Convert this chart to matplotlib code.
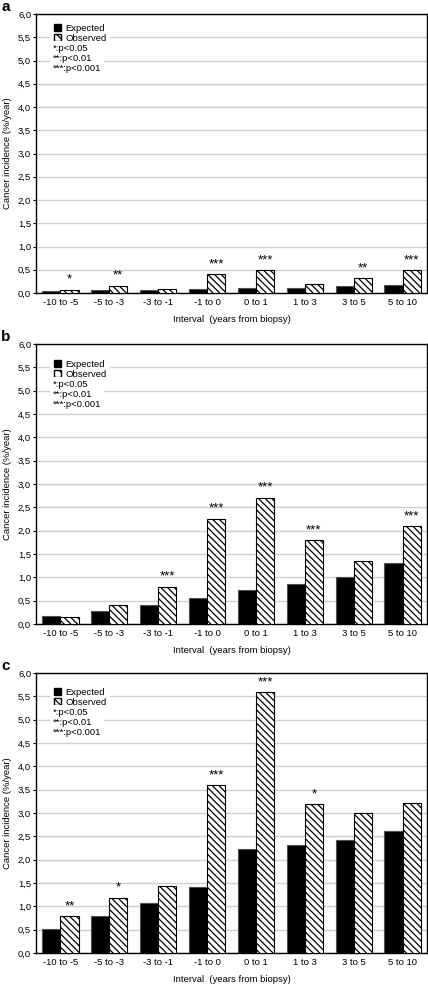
"""Expected vs observed cancer incidence by interval from biopsy, three panels."""
import matplotlib
matplotlib.use("Agg")
import matplotlib.pyplot as plt
import numpy as np
from matplotlib.patches import Patch

plt.rcParams["font.family"] = ["Liberation Sans", "DejaVu Sans"]
plt.rcParams["hatch.linewidth"] = 0.9

intervals = ["-10 to -5", "-5 to -3", "-3 to -1", "-1 to 0", "0 to 1", "1 to 3", "3 to 5", "5 to 10"]
panel_names = ["a", "b", "c"]

expected_a = [0.04, 0.06, 0.07, 0.09, 0.10, 0.11, 0.14, 0.18]
observed_a = [0.07, 0.16, 0.08, 0.40, 0.49, 0.19, 0.32, 0.49]
stars_a = ["*", "**", "", "***", "***", "", "**", "***"]

expected_b = [0.17, 0.27, 0.40, 0.55, 0.72, 0.85, 1.01, 1.30]
observed_b = [0.15, 0.40, 0.80, 2.26, 2.71, 1.79, 1.36, 2.09]
stars_b = ["", "", "***", "***", "***", "***", "", "***"]

expected_c = [0.52, 0.80, 1.08, 1.41, 2.23, 2.31, 2.42, 2.62]
observed_c = [0.79, 1.18, 1.43, 3.59, 5.59, 3.19, 2.99, 3.21]
stars_c = ["**", "*", "", "***", "***", "*", "", ""]

yticks = np.arange(0, 6.01, 0.5)
sig_lines = ["*:p<0.05", "**:p<0.01", "***:p<0.001"]

HATCH = "\\\\\\\\\\"
FS = 6.8
W, H = 428, 985


def draw_panel(fig, name, top_px, bot_px, expected, observed, stars, leg_off):
    ax = fig.add_axes([36 / W, 1 - bot_px / H, 391 / W, (bot_px - top_px) / H])
    x = np.arange(len(intervals))
    bw = 0.37
    ax.bar(x - bw / 2, expected, width=bw, color="black", edgecolor="#505050", lw=0.8, zorder=3)
    ax.bar(x + bw / 2, observed, width=bw, color="white", edgecolor="black", lw=0.8,
           hatch=HATCH, zorder=3)
    for xi, v, s in zip(x, observed, stars):
        if s:
            ax.annotate(s, (xi + bw / 2, v), xytext=(0, 3), textcoords="offset points",
                        ha="center", va="bottom", fontsize=9.5, zorder=4)

    ax.set_xlim(-0.5, len(intervals) - 0.5); ax.set_ylim(0, 6)
    ax.set_yticks(yticks)
    ax.set_yticklabels([f"{v:.1f}".replace(".", ",") for v in yticks], fontsize=FS)
    ax.set_xticks(x); ax.set_xticklabels(intervals, fontsize=FS)
    ax.tick_params(axis="x", length=0, pad=3.5)
    ax.tick_params(axis="y", length=2, width=0.8, pad=1.5, right=True)
    ax.grid(axis="y", color="#cfcfcf", lw=1.0, zorder=0)
    for sp in ax.spines.values():
        sp.set_linewidth(1.0)

    ax.set_ylabel("Cancer incidence (%/year)", fontsize=FS, va="center")
    ax.yaxis.set_label_coords((8 - 36) / 391, 0.5)
    ax.set_xlabel("Interval  (years from biopsy)", fontsize=FS, va="top")
    ax.xaxis.set_label_coords(0.5, -0.08)

    ph = bot_px - top_px
    handles = [Patch(facecolor="black", edgecolor="black"),
               Patch(facecolor="white", edgecolor="black", hatch="\\\\\\")]
    leg = ax.legend(handles, ["Expected", "Observed"], loc="upper left",
                    bbox_to_anchor=(0.036, 1 - (leg_off - 7) / ph), borderaxespad=0,
                    fontsize=FS, frameon=True, fancybox=False, framealpha=1,
                    edgecolor="none", handlelength=0.8, handleheight=0.8,
                    handletextpad=0.4, labelspacing=0.1, borderpad=0.4)
    leg.set_zorder(5)
    ax.text(0.043, 1 - (leg_off + 17) / ph, "\n".join(sig_lines), transform=ax.transAxes,
            ha="left", va="top", fontsize=FS, linespacing=1.15, zorder=6,
            bbox=dict(facecolor="white", edgecolor="none", pad=2))

    fig.text(1 / W, 1 - (top_px - 3) / H, name, fontsize=11, fontweight="bold",
             ha="left", va="baseline")
    return ax


def main():
    fig = plt.figure(figsize=(W / 100, H / 100), dpi=100)
    panels = [
        (14, 293, expected_a, observed_a, stars_a, 13),
        (344, 624, expected_b, observed_b, stars_b, 19),
        (673, 953, expected_c, observed_c, stars_c, 18),
    ]
    for name, (t, b, e, o, s, lo) in zip(panel_names, panels):
        draw_panel(fig, name, t, b, e, o, s, lo)
    fig.savefig("out.png", dpi=100)
    plt.close(fig)


if __name__ == "__main__":
    main()
